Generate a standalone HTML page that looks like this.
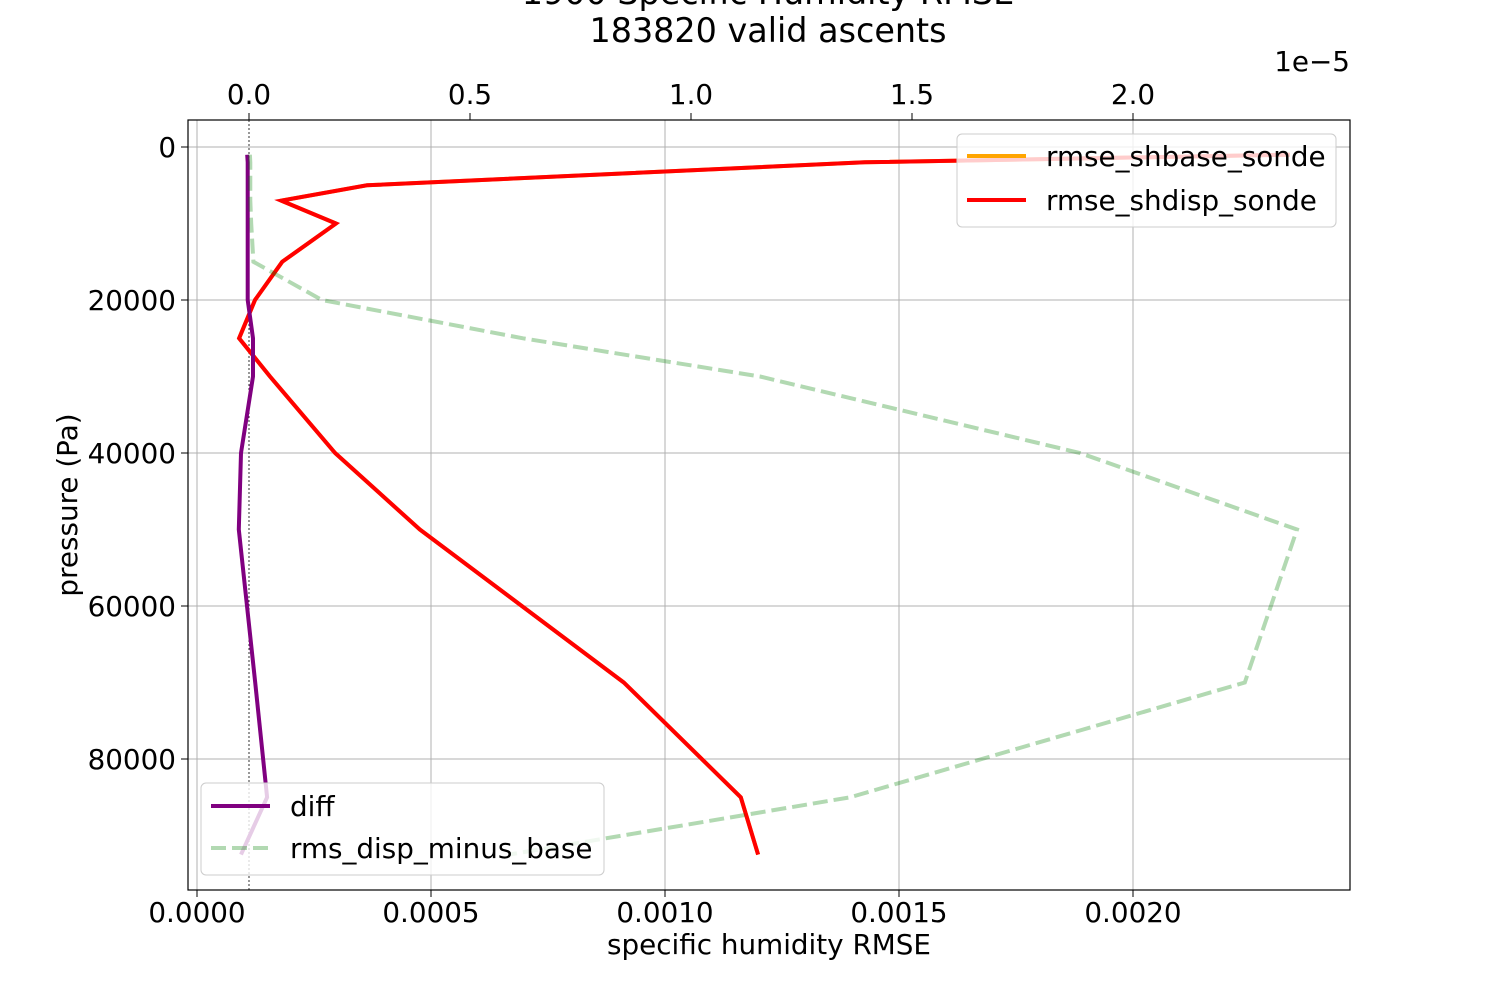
<!DOCTYPE html>
<html><head><meta charset="utf-8"><style>
body{margin:0;background:#fff;}
svg text{font-family:"DejaVu Sans","Liberation Sans",sans-serif;fill:#000;}
</style></head><body>
<svg id="chart" width="1500" height="1000" viewBox="0 0 1500 1000" xmlns="http://www.w3.org/2000/svg">
<g id="grid"></g>
<g id="series"></g>
<rect x="188" y="120" width="1162" height="770" fill="none" stroke="#000" stroke-width="1.2"/>
<g id="axes"></g>
<text x="768" y="4" font-size="33.4" text-anchor="middle">1900 Specific Humidity RMSE</text>
<text x="768" y="42" font-size="33.4" text-anchor="middle">183820 valid ascents</text>
<text x="1350" y="71" font-size="27.8" text-anchor="end">1e−5</text>
<text x="769" y="954" font-size="27.8" text-anchor="middle">specific humidity RMSE</text>
<text x="0" y="0" font-size="27.8" text-anchor="middle" transform="translate(77,505) rotate(-90)">pressure (Pa)</text>
<g>
<rect x="957" y="134" width="379" height="93" rx="5" fill="#fff" fill-opacity="0.8" stroke="#ccc"/>
<line x1="967" y1="156" x2="1026" y2="156" stroke="orange" stroke-width="4"/>
<text x="1046" y="166" font-size="27.8">rmse_shbase_sonde</text>
<line x1="967" y1="200" x2="1026" y2="200" stroke="red" stroke-width="4"/>
<text x="1046" y="210" font-size="27.8">rmse_shdisp_sonde</text>
</g>
<g>
<rect x="201" y="783" width="403" height="92" rx="5" fill="#fff" fill-opacity="0.8" stroke="#ccc"/>
<line x1="211" y1="806" x2="270" y2="806" stroke="purple" stroke-width="4"/>
<text x="290" y="816" font-size="27.8">diff</text>
<line x1="211" y1="848" x2="270" y2="848" stroke="green" stroke-opacity="0.3" stroke-width="4" stroke-dasharray="15,6"/>
<text x="290" y="858" font-size="27.8">rms_disp_minus_base</text>
</g>
</svg>
<script>
const pressures=[1000,2000,5000,7000,10000,15000,20000,25000,30000,40000,50000,70000,85000,92500];
const shdisp=[0.002335,0.001427,0.000363,0.000180,0.000297,0.000182,0.000124,0.000090,0.000156,0.000295,0.000476,0.000912,0.001162,0.001199];
const shbase=[0.002335,0.001427,0.000363,0.000180,0.000297,0.000182,0.000124,0.000090,0.000156,0.000295,0.000476,0.000912,0.001162,0.001199];
const diff=[-0.004,-0.003,-0.003,-0.003,-0.003,-0.003,-0.003,0.009,0.009,-0.018,-0.023,0.014,0.041,-0.018];
const rmsDispMinusBase=[0.002,0.003,0.003,0.003,0.005,0.01,0.165,0.62,1.156,1.88,2.371,2.253,1.36,0.588];
const xTicks=[0,0.0005,0.001,0.0015,0.002];
const xTickLabels=["0.0000","0.0005","0.0010","0.0015","0.0020"];
const topTicks=[0,0.5,1.0,1.5,2.0];
const topTickLabels=["0.0","0.5","1.0","1.5","2.0"];
const yTicks=[0,20000,40000,60000,80000];
const yTickLabels=["0","20000","40000","60000","80000"];

const NS="http://www.w3.org/2000/svg";
const xB=v=>197+v*468000;
const xT=v=>249+v*442;
const yP=p=>147+p*153/20000;
function mk(tag,attrs,parent){const e=document.createElementNS(NS,tag);for(const k in attrs)e.setAttribute(k,attrs[k]);parent.appendChild(e);return e;}
const grid=document.getElementById('grid'),axes=document.getElementById('axes'),series=document.getElementById('series');
xTicks.forEach((v,i)=>{const x=xB(v);
 const g=mk('line',{x1:x,y1:120,x2:x,y2:890,stroke:'#b0b0b0','stroke-width':1},grid);
 
 
 const t=mk('line',{x1:x,y1:890,x2:x,y2:897,stroke:'#000'},axes);
 
 
 const l=mk('text',{x:x,y:922,'font-size':27.8,'text-anchor':'middle'},axes);l.textContent=xTickLabels[i];
 
 
});
topTicks.forEach((v,i)=>{const x=xT(v);
 const t=mk('line',{x1:x,y1:113,x2:x,y2:120,stroke:'#000'},axes);
 
 
 const l=mk('text',{x:x,y:104,'font-size':27.8,'text-anchor':'middle'},axes);l.textContent=topTickLabels[i];
 
 
});
yTicks.forEach((v,i)=>{const y=yP(v);
 const g=mk('line',{x1:188,y1:y,x2:1350,y2:y,stroke:'#b0b0b0','stroke-width':1},grid);
 
 
 const t=mk('line',{x1:181,y1:y,x2:188,y2:y,stroke:'#000'},axes);
 
 
 const l=mk('text',{x:176,y:y+10,'font-size':27.8,'text-anchor':'end'},axes);l.textContent=yTickLabels[i];
 
 
});
const zl=mk('line',{x1:xT(0),y1:120,x2:xT(0),y2:890,stroke:'#000','stroke-width':0.8,'stroke-dasharray':'2,2'},grid);


function path(vals,fx){return vals.map((v,i)=>(i?'L':'M')+fx(v).toFixed(1)+','+yP(pressures[i]).toFixed(1)).join(' ');}
const s1=mk('path',{d:path(shbase,xB),fill:'none',stroke:'orange','stroke-width':4,'stroke-linejoin':'round'},series);


const s2=mk('path',{d:path(shdisp,xB),fill:'none',stroke:'red','stroke-width':4,'stroke-linejoin':'miter'},series);


const s3=mk('path',{d:path(diff,xT),fill:'none',stroke:'purple','stroke-width':4},series);


const s4=mk('path',{d:path(rmsDispMinusBase,xT),fill:'none',stroke:'green','stroke-opacity':0.3,'stroke-width':4,'stroke-dasharray':'15,6'},series);


</script>
</body></html>
